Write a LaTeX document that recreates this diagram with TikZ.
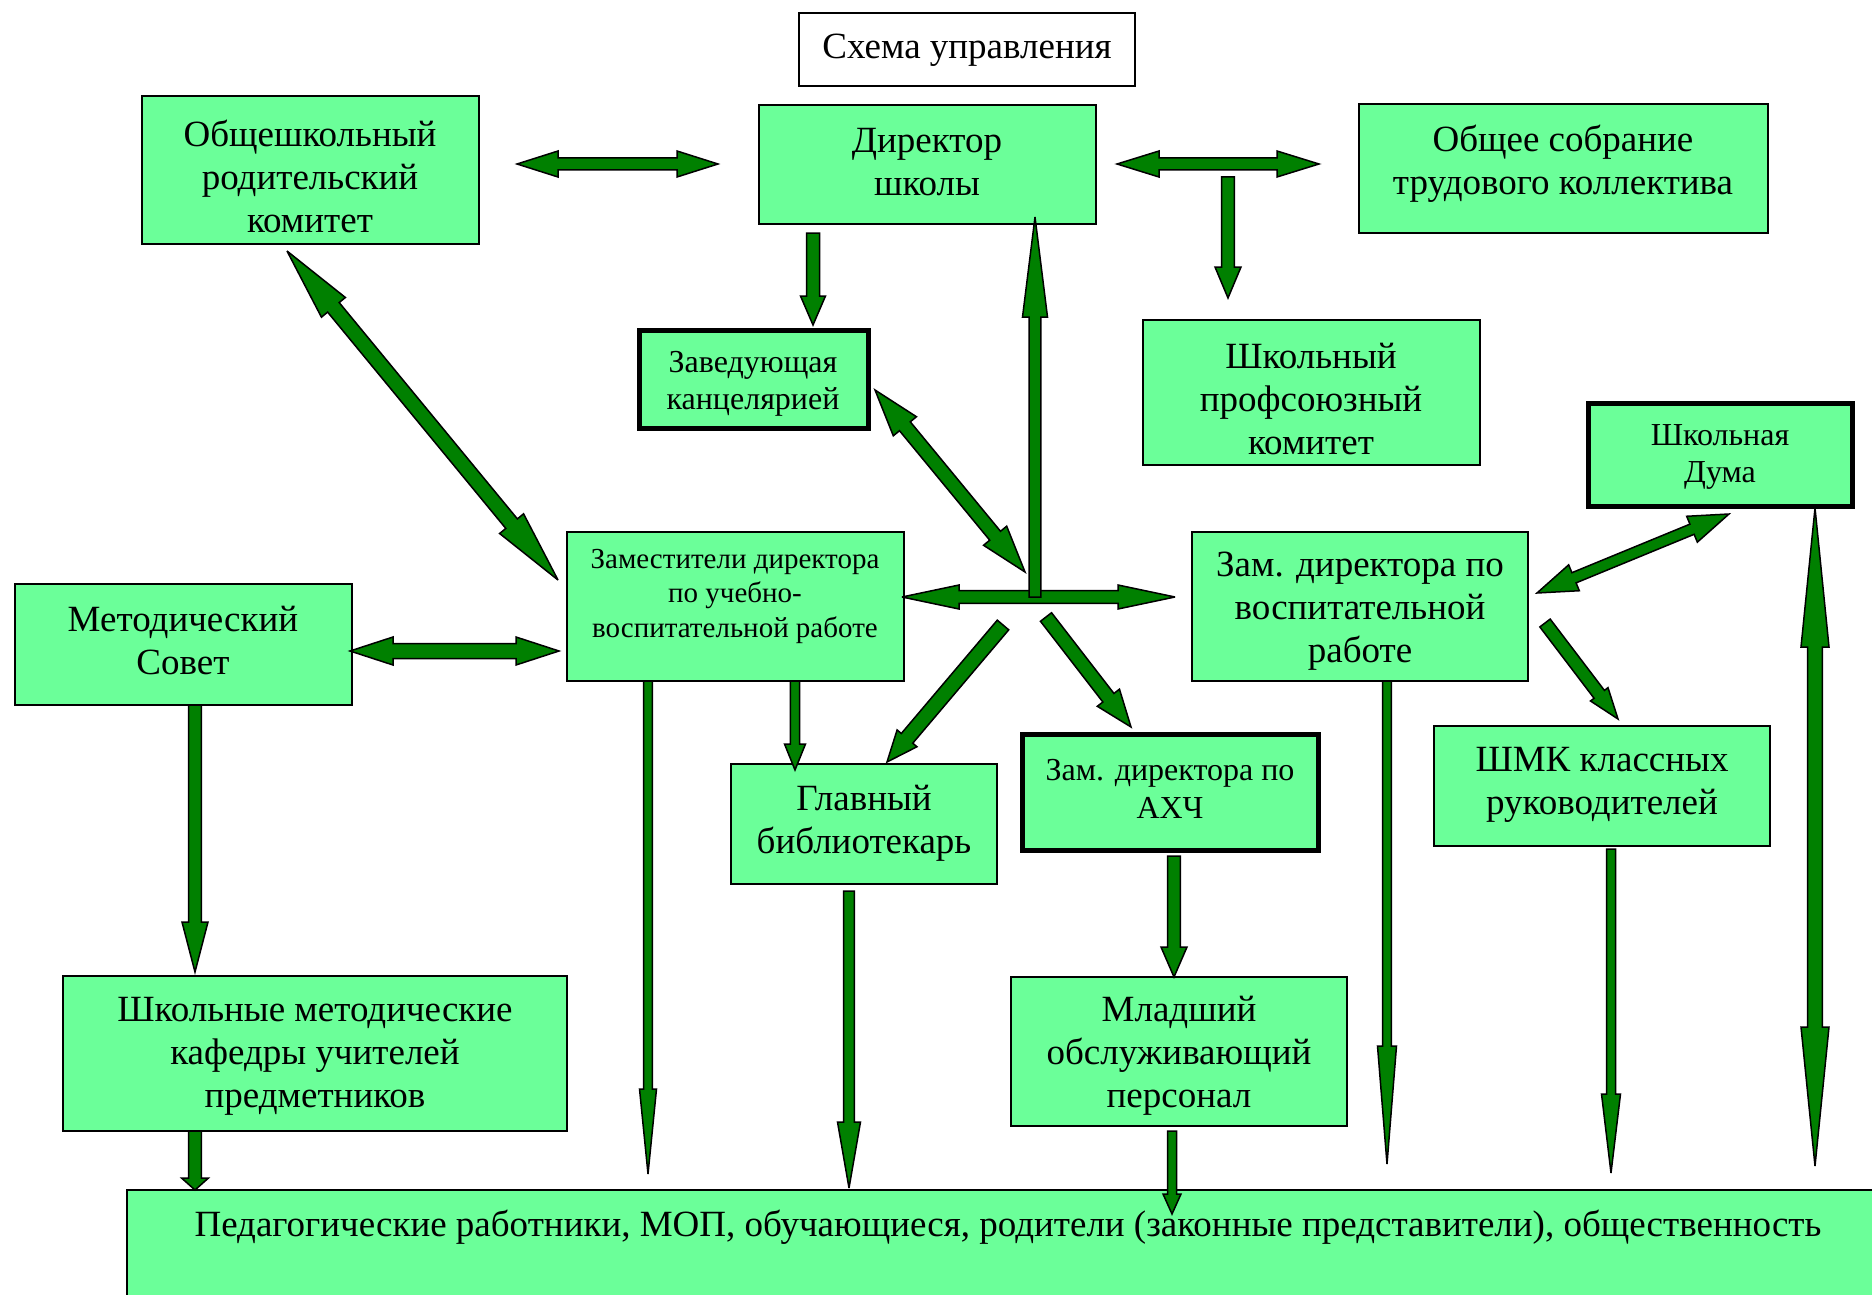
\documentclass[tikz,border=0pt]{standalone}
\usepackage{fontspec}
\setmainfont{Liberation Serif}
\usetikzlibrary{calc}
\definecolor{boxgreen}{RGB}{107,255,153}
\definecolor{arrgreen}{RGB}{0,128,0}
% single block arrow: from, to, half shaft, half head, head length
\newcommand\sarr[5]{%
  \path ($(#2)!#5!(#1)$) coordinate (hbx);
  \filldraw[arr] ($(#1)!#3!90:(#2)$) -- ($(hbx)!#3!90:(#2)$) -- ($(hbx)!#4!90:(#2)$) -- (#2)
    -- ($(hbx)!#4!-90:(#2)$) -- ($(hbx)!#3!-90:(#2)$) -- ($(#1)!#3!-90:(#2)$) -- cycle;}
% double block arrow
\newcommand\darr[5]{%
  \path ($(#1)!#5!(#2)$) coordinate (hax) ($(#2)!#5!(#1)$) coordinate (hbx);
  \filldraw[arr] (#1) -- ($(hax)!#4!90:(#2)$) -- ($(hax)!#3!90:(#2)$) -- ($(hbx)!#3!90:(#2)$)
    -- ($(hbx)!#4!90:(#2)$) -- (#2) -- ($(hbx)!#4!-90:(#2)$) -- ($(hbx)!#3!-90:(#2)$)
    -- ($(hax)!#3!-90:(#2)$) -- ($(hax)!#4!-90:(#2)$) -- cycle;}
\begin{document}
\begin{tikzpicture}[x=1pt,y=-1pt,
  box/.style={draw=black, line width=2pt, fill=boxgreen, inner sep=0pt, outer sep=0pt},
  thickbox/.style={box, line width=5pt},
  titlebox/.style={draw=black, line width=2pt, fill=white, inner sep=0pt},
  txt/.style={align=center, inner sep=0pt},
  big/.style={txt, font=\fontsize{37}{43}\selectfont},
  small/.style={txt, font=\fontsize{32}{37.5}\selectfont},
  arr/.style={fill=arrgreen, draw=black, line width=1.5pt, line join=miter, miter limit=4}]
\useasboundingbox[fill=white] (0,0) rectangle (1872,1295);

% boxes
\node[titlebox, minimum width=336, minimum height=73] (title) at (967,49.5) {};
\node[box, minimum width=337, minimum height=148] (parent) at (310.5,170) {};
\node[box, minimum width=337, minimum height=119] (dir) at (927.5,164.5) {};
\node[box, minimum width=409, minimum height=129] (general) at (1563.5,168.5) {};
\node[thickbox, minimum width=229, minimum height=98] (office) at (753.5,379) {};
\node[box, minimum width=337, minimum height=145] (union) at (1311.5,392.5) {};
\node[thickbox, minimum width=264, minimum height=103] (duma) at (1720,454.5) {};
\node[box, minimum width=337, minimum height=149] (depuv) at (735.5,606.5) {};
\node[box, minimum width=336, minimum height=149] (depv) at (1360,606.5) {};
\node[box, minimum width=337, minimum height=121] (metod) at (183.5,644.5) {};
\node[box, minimum width=266, minimum height=120] (lib) at (864,824) {};
\node[thickbox, minimum width=296, minimum height=116] (ahch) at (1170,792) {};
\node[box, minimum width=336, minimum height=120] (shmk) at (1602,786) {};
\node[box, minimum width=504, minimum height=155] (kaf) at (315,1053.5) {};
\node[box, minimum width=336, minimum height=149] (junior) at (1179,1051.5) {};
\node[box, minimum width=1763, minimum height=130] (bottom) at (1008.5,1255) {};

% arrow end points
\coordinate (pdA) at (517,164);  \coordinate (pdB) at (718,164);
\coordinate (dgA) at (1117,164); \coordinate (dgB) at (1319,164);
\coordinate (doA) at (813,233);  \coordinate (doB) at (813,325);
\coordinate (duA) at (1228,177); \coordinate (duB) at (1228,298);
\coordinate (hzA) at (902,597);  \coordinate (hzB) at (1175,597);
\coordinate (hub) at (1035,597); \coordinate (upB) at (1035,217);
\coordinate (ofA) at (875,390);  \coordinate (ofB) at (1025,572);
\coordinate (pvA) at (287,251);  \coordinate (pvB) at (558,580);
\coordinate (mvA) at (350,651);  \coordinate (mvB) at (559,651);
\coordinate (clA) at (1003,625); \coordinate (clB) at (887,762);
\coordinate (caA) at (1046,617); \coordinate (caB) at (1131,727);
\coordinate (v1A) at (648,681);  \coordinate (v1B) at (648,1174);
\coordinate (v2A) at (795,681);  \coordinate (v2B) at (795,770);
\coordinate (lbA) at (849,891);  \coordinate (lbB) at (849,1188);
\coordinate (ajA) at (1174,856); \coordinate (ajB) at (1174,977);
\coordinate (jbA) at (1172,1131);\coordinate (jbB) at (1172,1214);
\coordinate (vbA) at (1387,681); \coordinate (vbB) at (1387,1164);
\coordinate (dmA) at (1729,514); \coordinate (dmB) at (1537,593);
\coordinate (vsA) at (1545,623); \coordinate (vsB) at (1618,719);
\coordinate (sbA) at (1611,849); \coordinate (sbB) at (1611,1173);
\coordinate (rtA) at (1815,508); \coordinate (rtB) at (1815,1166);
\coordinate (mkA) at (195,705);  \coordinate (mkB) at (195,972);
\coordinate (kbA) at (195,1131); \coordinate (kbB) at (195,1190);

% arrows
\darr{pdA}{pdB}{6pt}{13pt}{41pt}
\darr{dgA}{dgB}{6pt}{13pt}{42pt}
\sarr{doA}{doB}{6.5pt}{12.5pt}{29pt}
\sarr{duA}{duB}{6.4pt}{13pt}{31pt}
\darr{hzA}{hzB}{6.4pt}{12pt}{57pt}
\sarr{hub}{upB}{5.8pt}{12.5pt}{100pt}
\darr{ofA}{ofB}{7pt}{15pt}{47pt}
\darr{pvA}{pvB}{7.5pt}{15.5pt}{73pt}
\darr{mvA}{mvB}{7.5pt}{14pt}{43pt}
\sarr{clA}{clB}{7.5pt}{13pt}{31pt}
\sarr{caA}{caB}{7pt}{14pt}{37pt}
\sarr{v1A}{v1B}{4.4pt}{8.5pt}{85pt}
\sarr{v2A}{v2B}{4.7pt}{10.5pt}{26pt}
\sarr{lbA}{lbB}{5.4pt}{11.5pt}{66pt}
\sarr{ajA}{ajB}{6.4pt}{13pt}{30pt}
\sarr{jbA}{jbB}{4.5pt}{9pt}{20pt}
\sarr{vbA}{vbB}{4.4pt}{9.5pt}{118pt}
\darr{dmA}{dmB}{5.5pt}{14pt}{40pt}
\sarr{vsA}{vsB}{6.5pt}{11pt}{31pt}
\sarr{sbA}{sbB}{4.5pt}{9.5pt}{79pt}
\darr{rtA}{rtB}{7.4pt}{14pt}{139pt}
\sarr{mkA}{mkB}{6.4pt}{13pt}{50pt}
\sarr{kbA}{kbB}{6.4pt}{13.5pt}{12pt}

% texts
\node[big] (titleT) at (967,50) {Схема управления};
\node[big] (parentT) at (310,176) {Общешкольный\\родительский\\комитет};
\node[big] (dirT) at (927,162) {Директор\\школы};
\node[big] (generalT) at (1563,164) {Общее собрание\\трудового коллектива};
\node[small] (officeT) at (753,384) {Заведующая\\канцелярией};
\node[big] (unionT) at (1311,399) {Школьный\\профсоюзный\\комитет};
\node[small] (dumaT) at (1720,457) {Школьная\\Дума};
\node[txt, font=\fontsize{29}{34.5}\selectfont] (depuvT) at (735,596) {Заместители директора\\по учебно-\\воспитательной работе};
\node[big] (depvT) at (1360,611) {Зам. директора по\\воспитательной\\работе};
\node[big] (metodT) at (183,641) {Методический\\Совет};
\node[big] (libT) at (864,823) {Главный\\библиотекарь};
\node[small] (ahchT) at (1170,789) {Зам. директора по\\АХЧ};
\node[big] (shmkT) at (1602,785) {ШМК классных\\руководителей};
\node[big] (kafT) at (315,1056) {Школьные методические\\кафедры учителей\\предметников};
\node[big] (juniorT) at (1179,1056) {Младший\\обслуживающий\\персонал};
\node[big] (bottomT) at (1008,1227) {Педагогические работники, МОП, обучающиеся, родители (законные представители), общественность};
\end{tikzpicture}
\end{document}
